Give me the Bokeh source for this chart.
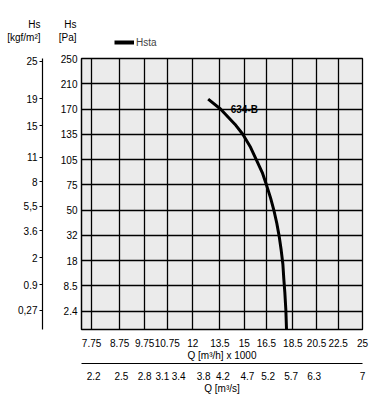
import numpy as np
from bokeh.plotting import figure
from bokeh.layouts import column
from bokeh.models import (FixedTicker, LinearAxis, LogAxis, Range1d,
                          Legend, LegendItem)
from bokeh.core.properties import value
from bokeh.embed import file_html
from bokeh.resources import INLINE

# ---------------- data ----------------
q_ticks = [7.75, 8.75, 9.75, 10.75, 12, 13.5, 15, 16.5, 18.5, 20.5, 22.5, 25]
q_labels = ["7.75", "8.75", "9.75", "10.75", "12", "13.5", "15", "16.5",
            "18.5", "20.5", "22.5", "25"]

# second x axis (m3/s); tick positions expressed on the Q [m3/h]x1000 scale
ms_pos = [7.82, 8.82, 9.75, 10.53, 11.29, 12.58, 13.67, 15.2, 16.63, 18.37, 20.29, 25.0]
ms_labels = ["2.2", "2.5", "2.8", "3.1", "3.4", "3.8", "4.2", "4.7", "5.2",
             "5.7", "6.3", "7"]

# Pa grid levels (equally spaced on the chart)
pa_levels = [0, 2.4, 8.5, 18, 32, 50, 75, 105, 135, 170, 210, 250]
pa_labels = ["2.4", "8.5", "18", "32", "50", "75", "105", "135", "170", "210", "250"]

kgf_ticks = [0.27, 0.9, 2, 3.6, 5.5, 8, 11, 15, 19, 25]
kgf_labels = ["0,27", "0.9", "2", "3.6", "5,5", "8", "11", "15", "19", "25"]

# Hsta curve "634-B": Q [m3/h]x1000 vs Hs [Pa]
curve_q = [12.83, 13.53, 14.40, 14.90, 15.41, 15.81, 16.21, 16.51, 16.80,
           17.04, 17.26, 17.44, 17.59, 17.72, 17.79, 17.87, 17.95, 18.00]
curve_pa = [185.6, 170.0, 149.0, 135.0, 119.5, 104.4, 89.5, 74.7, 62.0,
            50.0, 40.6, 31.4, 23.8, 16.6, 11.2, 6.9, 2.6, 0.65]

label_q, label_pa = 15.0, 169.0

# axis headers
hdr_lines1 = ["Hs", "Hs"]
hdr_lines2 = ["[kgf/m²]", "[Pa]"]

# ---------------- chart scale (Pa levels equally spaced) ----------------
level_idx = list(range(len(pa_levels)))


def ypos(pa):
    return [float(v) for v in np.interp(pa, pa_levels, level_idx)]


FONT = "Liberation Sans"
FS = "10px"
W = 385
HDR_H = 52

# ---------------- header strip (axis headers + legend) ----------------
hdr = figure(width=W, height=HDR_H, x_range=Range1d(0, W), y_range=Range1d(HDR_H, 0),
             output_backend="svg", toolbar_location=None,
             x_axis_location=None, y_axis_location=None,
             min_border_left=0, min_border_right=0, min_border_top=0,
             min_border_bottom=0)
if "frame_align" in hdr.properties():
    hdr.frame_align = False
hdr.grid.visible = False
hdr.outline_line_color = None
hdr.background_fill_color = "white"
hdr.border_fill_color = "white"

hdr_x = [40, 76]
hdr.text(x=hdr_x, y=[24, 24], text=hdr_lines1, text_font=value(FONT),
         text_font_size=FS, text_align="right", text_baseline="middle",
         text_color="black")
hdr.text(x=hdr_x, y=[37, 37], text=hdr_lines2, text_font=value(FONT),
         text_font_size=FS, text_align="right", text_baseline="middle",
         text_color="black")

# legend key: hidden copy of the curve, styled like the legend swatch
proxy = hdr.line(curve_q, ypos(curve_pa), line_color="black", line_width=4,
                 visible=False)
legend = Legend(items=[LegendItem(label="Hsta", renderers=[proxy])],
                location=(114, 3), orientation="horizontal",
                background_fill_alpha=0, border_line_alpha=0,
                padding=0, margin=0, glyph_width=20, glyph_height=14,
                label_height=14, label_standoff=2, label_text_font=FONT,
                label_text_font_size=FS, label_text_baseline="middle",
                inactive_fill_alpha=0)
hdr.add_layout(legend)

# ---------------- main chart ----------------
p = figure(width=W, height=344, x_axis_type="log",
           x_range=Range1d(7.42, 25), y_range=Range1d(0.27, 11),
           output_backend="svg", toolbar_location=None,
           min_border_left=81, min_border_right=23,
           min_border_top=6, min_border_bottom=67)

p.background_fill_color = "#ebebeb"
p.border_fill_color = "white"
p.outline_line_color = "black"
p.outline_line_width = 1.3

# grids
p.xgrid.ticker = FixedTicker(ticks=q_ticks)
p.ygrid.ticker = FixedTicker(ticks=level_idx[1:])
for g in (p.xgrid[0], p.ygrid[0]):
    g.grid_line_color = "black"
    g.grid_line_width = 1.3
    g.grid_line_alpha = 1.0

# x axis 1 : Q [m3/h] x 1000
xa = p.xaxis[0]
xa.ticker = FixedTicker(ticks=q_ticks)
xa.major_label_overrides = {float(t): l for t, l in zip(q_ticks, q_labels)}
xa.axis_label = "Q [m³/h] x 1000"
xa.axis_label_standoff = 0
xa.major_label_standoff = 3
xa.minor_tick_line_color = None
xa.major_tick_line_color = None

# x axis 2 : Q [m3/s]
xa2 = LogAxis(ticker=FixedTicker(ticks=ms_pos),
              major_label_overrides={float(t): l for t, l in zip(ms_pos, ms_labels)},
              axis_label="Q [m³/s]")
xa2.axis_label_standoff = 0
xa2.major_label_standoff = 2
xa2.minor_tick_line_color = None
xa2.major_tick_line_color = None
p.add_layout(xa2, "below")

# y axis 1 : Pa
ya = p.yaxis[0]
ya.ticker = FixedTicker(ticks=level_idx[1:])
ya.major_label_overrides = {i: l for i, l in zip(level_idx[1:], pa_labels)}
ya.major_tick_line_color = None
ya.minor_tick_line_color = None
ya.major_tick_out = 0
ya.major_label_standoff = 4
ya.axis_label = " "
ya.axis_label_standoff = 1

# y axis 2 : kgf/m2
kgf_pos = ypos([k * 9.81 for k in kgf_ticks])
ya2 = LinearAxis(ticker=FixedTicker(ticks=kgf_pos),
                 major_label_overrides={t: l for t, l in zip(kgf_pos, kgf_labels)})
ya2.major_tick_out = 3
ya2.major_tick_in = 0
ya2.major_label_standoff = 2
ya2.minor_tick_line_color = None
p.add_layout(ya2, "left")

for ax in (xa, xa2, ya, ya2):
    ax.major_label_text_font = FONT
    ax.major_label_text_font_size = FS
    ax.major_label_text_color = "black"
    ax.axis_label_text_font = FONT
    ax.axis_label_text_font_size = FS
    ax.axis_label_text_font_style = "normal"
    ax.axis_label_text_color = "black"
    ax.axis_line_color = "black"
    ax.axis_line_width = 1.2

# curve
r = p.line(curve_q, ypos(curve_pa), line_color="black", line_width=3,
           line_cap="butt", line_join="round")

p.text(x=[label_q], y=ypos([label_pa]), text=["634-B"], text_font=value(FONT),
       text_font_size="10px", text_font_style="bold", text_align="center",
       text_baseline="middle", text_color="black")

layout = column(hdr, p)
open("out.html", "w").write(file_html(layout, INLINE))
